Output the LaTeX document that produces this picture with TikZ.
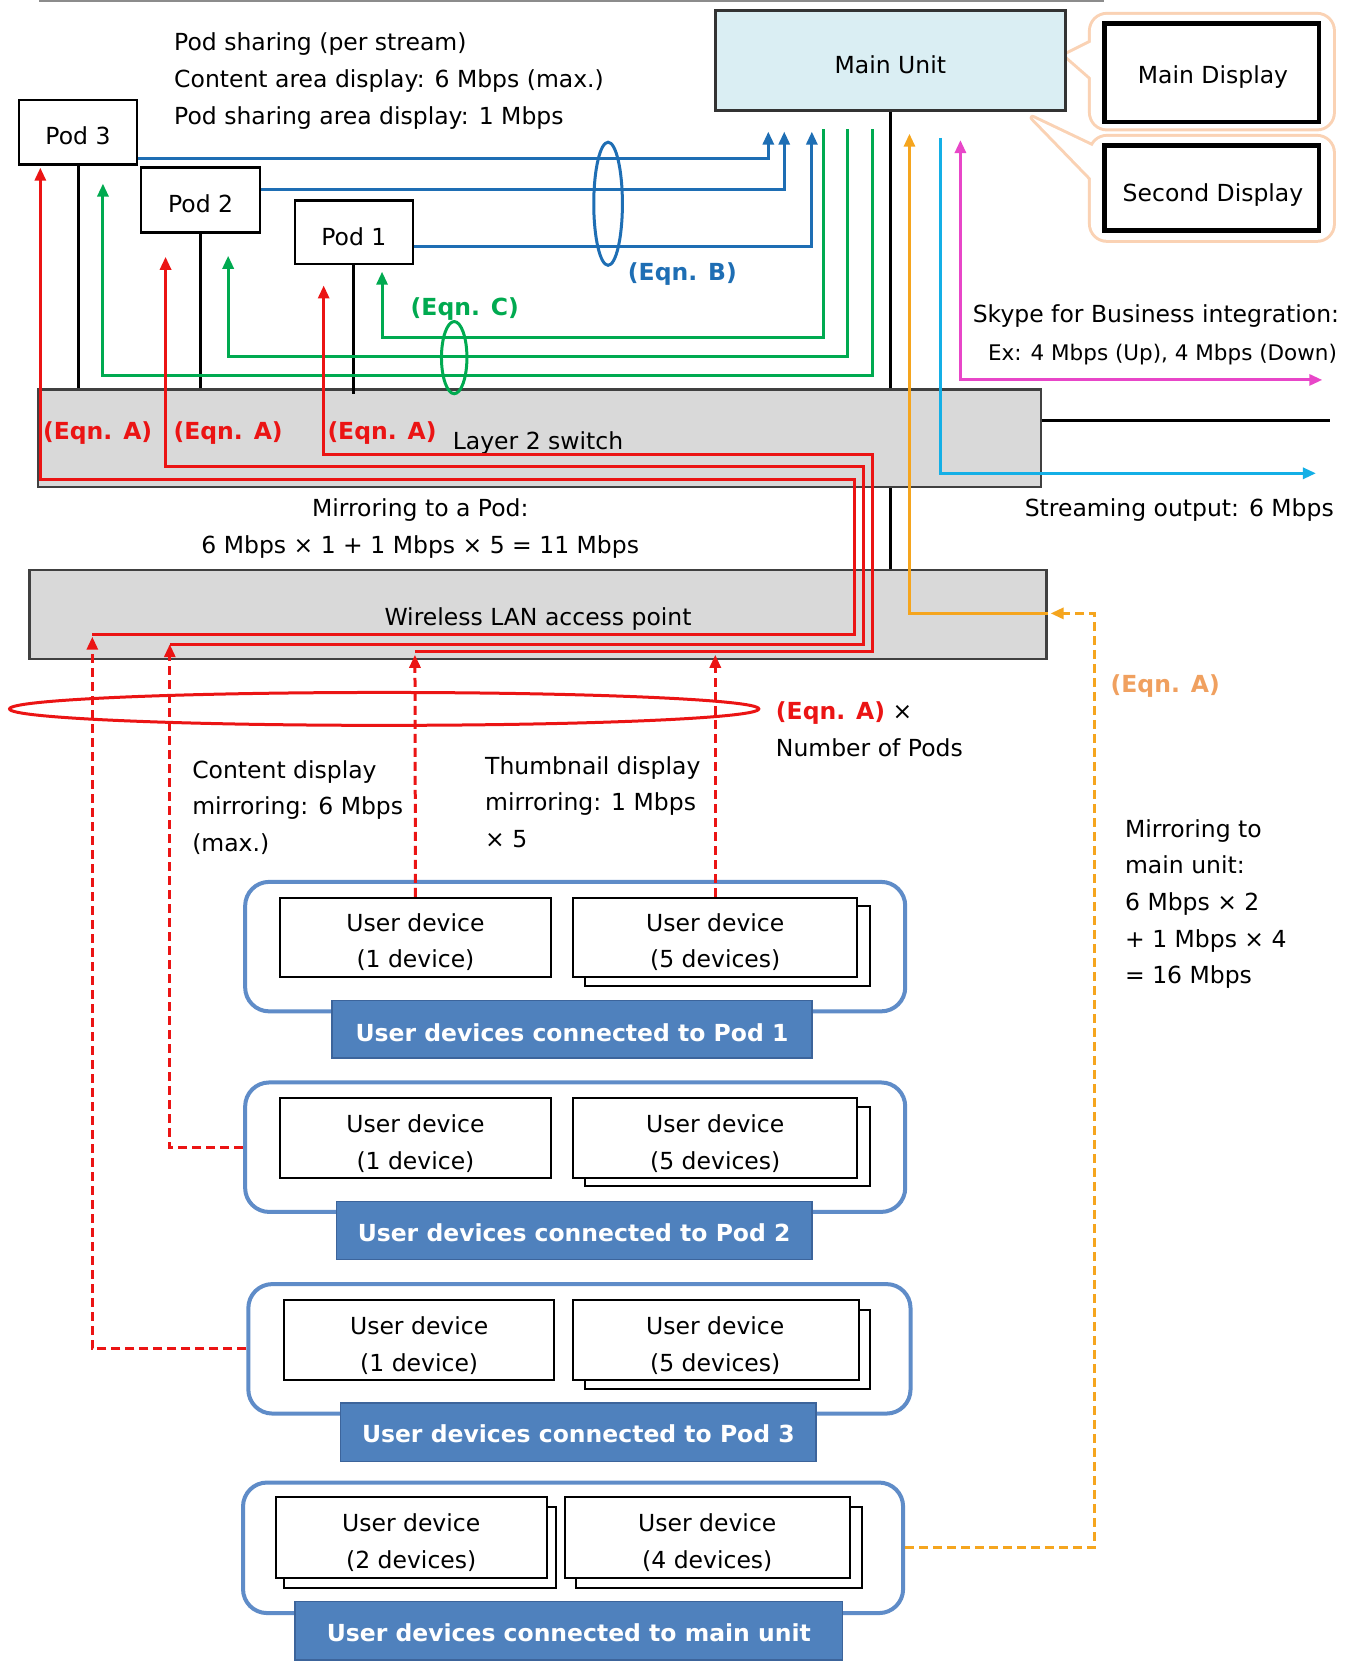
\documentclass[tikz,border=0pt]{standalone}
\usepackage{fontspec}
\setmainfont{DejaVu Sans}
\usetikzlibrary{arrows.meta,calc,fit}

\definecolor{cBlue}{RGB}{30,110,180}
\definecolor{cGreen}{RGB}{0,170,80}
\definecolor{cRed}{RGB}{235,20,20}
\definecolor{cOrange}{RGB}{245,165,30}
\definecolor{cOrangeTxt}{RGB}{240,160,95}
\definecolor{cCyan}{RGB}{20,175,230}
\definecolor{cMag}{RGB}{232,70,200}
\definecolor{cMain}{RGB}{218,238,243}
\definecolor{cGrey}{RGB}{217,217,217}
\definecolor{cGroup}{RGB}{95,140,200}
\definecolor{cBar}{RGB}{79,129,189}
\definecolor{cBarEdge}{RGB}{60,100,155}
\definecolor{cCallout}{RGB}{250,210,180}

\begin{document}
\begin{tikzpicture}[x=1.0614pt,y=-1.0614pt,
  base/.style={font=\fontsize{23.5}{36.6}\selectfont},
  txt/.style={base, inner sep=0pt, yshift=-3pt},
  eqn/.style={font=\fontsize{23.5}{36.6}\selectfont\bfseries, inner sep=0pt, yshift=-2pt},
  podbox/.style={draw=black, line width=2.5pt, fill=white, inner sep=0pt, base},
  unitbox/.style={draw=black!80, line width=2.5pt, fill=cMain, inner sep=0pt, base},
  dispbox/.style={draw=black, line width=4.5pt, fill=white, inner sep=0pt, base},
  netbox/.style={draw=black!75, line width=2.5pt, fill=cGrey, inner sep=0pt, base},
  grpbox/.style={draw=cGroup, line width=4pt, rounded corners=24pt, inner sep=0pt},
  devbox/.style={draw=black, line width=2pt, fill=white, inner sep=0pt, base, align=center},
  backbox/.style={draw=black, line width=2pt, fill=white},
  barbox/.style={draw=cBarEdge, line width=1.5pt, fill=cBar, inner sep=0pt},
  bartxt/.style={inner sep=0pt, text=white, font=\fontsize{23.5}{30}\selectfont\bfseries, yshift=-1pt},
  ln/.style={line width=3pt},
  arr/.style={-{Triangle[length=13pt,width=11pt]}},
  darr/.style={{Triangle[length=13pt,width=11pt]}-{Triangle[length=13pt,width=11pt]}},
  rdash/.style={ln, draw=cRed, dash pattern=on 9pt off 5pt},
  odash/.style={ln, draw=cOrange, dash pattern=on 9pt off 5pt},
  callout/.style={draw=cCallout, line width=6pt, rounded corners=16pt},
]
\useasboundingbox (0,0) rectangle (1270,1568);
\fill[white] (0,0) rectangle (1270,1568);

% top rule
\draw[black!45, line width=1.5pt] (37,1) -- (1040,1);

% callouts
\draw[callout] (1028,14) rectangle (1256,121);
\draw[draw=cCallout, line width=6pt, line join=round] (1004,52) -- (1036,36) -- (1036,80) -- cycle;
\draw[callout] (1028,129) rectangle (1256,226);
\draw[draw=cCallout, line width=6pt, line join=round] (973,111) -- (1036,141) -- (1036,176) -- cycle;
\fill[white, rounded corners=16pt] (1028,14) rectangle (1256,121);
\fill[white, rounded corners=16pt] (1028,129) rectangle (1256,226);
\fill[white] (1004,52) -- (1036,36) -- (1036,80) -- cycle;
\fill[white] (973,111) -- (1036,141) -- (1036,176) -- cycle;

% network boxes
\node[netbox, fit={(36,367)(981,459)}] (sw) {};
\node[netbox, fit={(28,537)(986,621)}] (ap) {};
\node[txt] at (507,415) (swl) {Layer 2 switch};
\node[txt] at (507,580) (apl) {Wireless LAN access point};

% main unit & displays
\node[unitbox, fit={(674,10)(1004,104)}] (mu) {};
\node[txt] at (839,58) (mul) {Main Unit};
\node[dispbox, fit={(1041,22)(1243,115)}] (md) {};
\node[txt] at (1143,70) (mdl) {Main Display};
\node[dispbox, fit={(1041,137)(1243,217)}] (sd) {};
\node[txt] at (1143,181) (sdl) {Second Display};

% black links
\draw[ln] (mu.south) -- (mu.south |- sw.north);
\draw[ln] (sw.south -| mu.south) -- (ap.north -| mu.south);
\draw[ln] (sw.east |- 0,396) -- (1253,396);

% pods
\node[podbox, fit={(18,94)(129,155)}] (pod3) {};
\node[txt] at (73.5,125) (pod3l) {Pod 3};
\node[podbox, fit={(133,158)(245,219)}] (pod2) {};
\node[txt] at (189,189) (pod2l) {Pod 2};
\node[podbox, fit={(278,189)(389,249)}] (pod1) {};
\node[txt] at (333.5,220) (pod1l) {Pod 1};

\draw[ln] (pod3.south) -- (pod3.south |- sw.north);
\draw[ln] (pod2.south) -- (pod2.south |- sw.north);
\draw[ln] (pod1.south) -- ($(pod1.south |- sw.north)+(0,5)$);

% blue (Eqn. B)
\draw[ln, cBlue, arr] ($(pod3.south east)+(0,-7)$) -| (724,124);
\draw[ln, cBlue, arr] ($(pod2.north east)+(0,22)$) -| (739,124);
\draw[ln, cBlue, arr] ($(pod1.south east)+(0,-18)$) -| (765,124);
\draw[ln, cBlue] (573,192) ellipse [x radius=13.5, y radius=58];

% green (Eqn. C)
\draw[ln, cGreen, arr] (776,122) |- (360,318) -- (360,256);
\draw[ln, cGreen, arr] (799,122) |- (215,336) -- (215,241);
\draw[ln, cGreen, arr] (822,122) |- (97,354) -- (97,173);
\draw[ln, cGreen] (428,337) ellipse [x radius=12, y radius=34];

% red solid (Eqn. A)
\draw[ln, cRed, arr] (87,598) -- (805,598) -- (805,452) -- (38,452) -- (38,158);
\draw[ln, cRed, arr] (160,607) -- (814,607) -- (814,440) -- (156,440) -- (156,242);
\draw[ln, cRed, arr] (391,614) -- (822,614) -- (822,428) -- (305,428) -- (305,269);

% orange, cyan, magenta
\draw[ln, cOrange, arr] (ap.east |- 0,578) -| (857,126);
\draw[ln, cCyan, arr] (886,130) |- (1240,446);
\draw[ln, cMag, darr] (905,132) |- (1246,358);

% red ellipse
\draw[ln, cRed] (362,668) ellipse [x radius=353, y radius=15.5];

% groups
\node[grpbox, fit={(231,831)(853,953)}] (g1) {};
\node[grpbox, fit={(231,1020)(853,1142)}] (g2) {};
\node[grpbox, fit={(234,1210)(858,1332)}] (g3) {};
\node[grpbox, fit={(229,1397)(851,1520)}] (gm) {};

% devices pod 1
\node[devbox, fit={(264,846)(519,921)}] (d1a) {};
\node[txt, align=center] at (391.5,885) (d1al) {User device\\(1 device)};
\draw[backbox] (551,854) rectangle (820,929);
\node[devbox, fit={(540,846)(808,921)}] (d1b) {};
\node[txt, align=center] at (674,885) (d1bl) {User device\\(5 devices)};
\node[barbox, fit={(313,943)(765,997)}] (b1) {};
\node[bartxt] at (539,972) (b1l) {User devices connected to Pod 1};

% devices pod 2
\node[devbox, fit={(264,1035)(519,1110)}] (d2a) {};
\node[txt, align=center] at (391.5,1075) (d2al) {User device\\(1 device)};
\draw[backbox] (551,1043) rectangle (820,1118);
\node[devbox, fit={(540,1035)(808,1110)}] (d2b) {};
\node[txt, align=center] at (674,1075) (d2bl) {User device\\(5 devices)};
\node[barbox, fit={(317,1132)(765,1187)}] (b2) {};
\node[bartxt] at (541,1161) (b2l) {User devices connected to Pod 2};

% devices pod 3
\node[devbox, fit={(268,1225)(522,1300)}] (d3a) {};
\node[txt, align=center] at (395,1265) (d3al) {User device\\(1 device)};
\draw[backbox] (551,1234) rectangle (820,1309);
\node[devbox, fit={(540,1225)(809,1300)}] (d3b) {};
\node[txt, align=center] at (674,1265) (d3bl) {User device\\(5 devices)};
\node[barbox, fit={(321,1322)(769,1377)}] (b3) {};
\node[bartxt] at (545,1350) (b3l) {User devices connected to Pod 3};

% devices main unit
\draw[backbox] (268,1420) rectangle (524,1496);
\node[devbox, fit={(260,1411)(515,1487)}] (dma) {};
\node[txt, align=center] at (387.5,1451) (dmal) {User device\\(2 devices)};
\draw[backbox] (543,1420) rectangle (812,1496);
\node[devbox, fit={(532,1411)(801,1487)}] (dmb) {};
\node[txt, align=center] at (666.5,1451) (dmbl) {User device\\(4 devices)};
\node[barbox, fit={(278,1509)(794,1564)}] (bm) {};
\node[bartxt] at (536,1538) (bml) {User devices connected to main unit};

% dashed red mirroring
\draw[rdash, arr] (g3.west) -| (87,600);
\draw[rdash, arr] (g2.west) -| (160,607);
\draw[rdash, arr] (d1a.north) -- (391,617);
\draw[rdash, arr] (d1b.north) -- (674,617);

% dashed orange
\draw[odash, arr] (gm.east) -| (1031,578) -- (990,578);

% texts
\node[txt, anchor=west, align=left] at (164,73.5) (t1) {Pod sharing (per stream)\\Content area display: 6 Mbps (max.)\\Pod sharing area display: 1 Mbps};
\node[eqn, text=cRed] at (92,406) (ea3) {(Eqn. A)};
\node[eqn, text=cRed] at (215,406) (ea2) {(Eqn. A)};
\node[eqn, text=cRed] at (360,406) (ea1) {(Eqn. A)};
\node[eqn, text=cBlue] at (643,256) (eb) {(Eqn. B)};
\node[eqn, text=cGreen] at (438,289) (ec) {(Eqn. C)};
\node[txt, align=center] at (396,495) (t2) {Mirroring to a Pod:\\6 Mbps × 1 + 1 Mbps × 5 = 11 Mbps};
\node[txt, anchor=east] at (1262,295) (t3) {Skype for Business integration:};
\node[inner sep=0pt, anchor=east, font=\fontsize{21.5}{30}\selectfont, yshift=-3pt] at (1260,331) (t4) {Ex: 4 Mbps (Up), 4 Mbps (Down)};
\node[txt, anchor=east] at (1257,478) (t5) {Streaming output: 6 Mbps};
\node[txt, anchor=west] at (731,669) (t6) {\textcolor{cRed}{\bfseries (Eqn. A)} ×};
\node[txt, anchor=west] at (731,702) (t7) {Number of Pods};
\node[txt, anchor=west, align=left] at (181,758) (t8) {Content display\\mirroring: 6 Mbps\\(max.)};
\node[txt, anchor=west, align=left] at (457,753) (t9) {Thumbnail display\\mirroring: 1 Mbps\\× 5};
\node[eqn, text=cOrangeTxt] at (1098,645) (eao) {(Eqn. A)};
\node[txt, anchor=west, align=left] at (1060,849) (t10) {Mirroring to\\main unit:\\6 Mbps × 2\\+ 1 Mbps × 4\\= 16 Mbps};
\end{tikzpicture}
\end{document}
